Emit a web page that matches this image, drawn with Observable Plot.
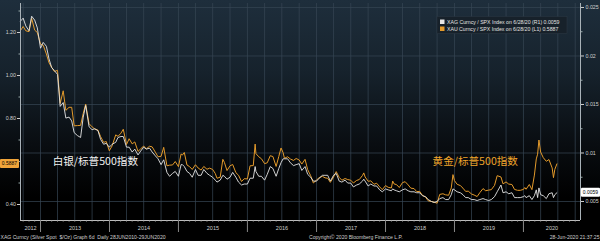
<!DOCTYPE html>
<html><head><meta charset="utf-8">
<script src="https://cdn.jsdelivr.net/npm/d3@7"></script>
<script src="https://cdn.jsdelivr.net/npm/@observablehq/plot@0.6"></script>
<style>
html,body{margin:0;padding:0;width:600px;height:241px;overflow:hidden;background:#000;}
#chart{width:600px;height:241px;background:linear-gradient(180deg,#1e2e3c 0%,#16222c 30%,#090d11 60%,#000 82%);}
svg{display:block}
</style></head><body><div id="chart"></div>
<script>
// ---- data ----
const dates = ["2012-09-17","2012-10-01","2012-10-15","2012-11-01","2012-11-15","2012-12-01","2012-12-15","2013-01-01","2013-01-15","2013-02-01","2013-02-15","2013-03-01","2013-03-15","2013-04-01","2013-04-15","2013-05-01","2013-05-15","2013-06-01","2013-06-15","2013-06-28","2013-07-15","2013-08-01","2013-08-15","2013-08-28","2013-09-15","2013-10-01","2013-10-15","2013-11-01","2013-11-15","2013-12-01","2013-12-15","2013-12-31","2014-01-15","2014-02-03","2014-02-15","2014-03-03","2014-03-15","2014-04-01","2014-04-15","2014-05-01","2014-05-15","2014-06-01","2014-06-15","2014-07-01","2014-07-15","2014-08-01","2014-08-15","2014-09-01","2014-09-15","2014-10-01","2014-10-15","2014-11-01","2014-11-15","2014-12-01","2014-12-15","2015-01-01","2015-01-15","2015-01-22","2015-02-01","2015-02-15","2015-03-01","2015-03-15","2015-04-01","2015-04-15","2015-05-01","2015-05-15","2015-06-01","2015-06-15","2015-07-01","2015-07-15","2015-07-24","2015-08-10","2015-08-24","2015-09-01","2015-09-15","2015-10-01","2015-10-15","2015-11-01","2015-11-15","2015-12-01","2015-12-15","2016-01-01","2016-01-15","2016-02-01","2016-02-11","2016-02-15","2016-03-01","2016-03-15","2016-04-01","2016-04-15","2016-05-01","2016-05-15","2016-06-01","2016-06-15","2016-06-27","2016-07-08","2016-07-15","2016-08-01","2016-08-15","2016-09-01","2016-09-15","2016-10-01","2016-10-15","2016-11-01","2016-11-15","2016-12-01","2016-12-15","2017-01-01","2017-01-15","2017-02-01","2017-02-15","2017-03-01","2017-03-15","2017-04-01","2017-04-15","2017-05-01","2017-05-15","2017-06-01","2017-06-15","2017-07-01","2017-07-15","2017-08-01","2017-08-15","2017-09-01","2017-09-08","2017-09-15","2017-10-01","2017-10-15","2017-11-01","2017-11-15","2017-12-01","2017-12-15","2018-01-01","2018-01-15","2018-02-01","2018-02-08","2018-02-15","2018-03-01","2018-03-15","2018-04-01","2018-04-15","2018-05-01","2018-05-15","2018-06-01","2018-06-15","2018-07-01","2018-07-15","2018-08-01","2018-08-15","2018-09-01","2018-09-15","2018-10-01","2018-10-15","2018-11-01","2018-11-15","2018-12-01","2018-12-15","2018-12-24","2019-01-01","2019-01-15","2019-02-01","2019-02-15","2019-03-01","2019-03-15","2019-04-01","2019-04-15","2019-05-01","2019-05-15","2019-06-01","2019-06-15","2019-07-01","2019-07-15","2019-08-01","2019-08-15","2019-09-04","2019-09-15","2019-10-01","2019-10-15","2019-11-01","2019-11-15","2019-12-01","2019-12-15","2020-01-01","2020-01-08","2020-01-15","2020-02-01","2020-02-15","2020-02-28","2020-03-09","2020-03-16","2020-03-23","2020-04-01","2020-04-15","2020-05-01","2020-05-15","2020-06-01","2020-06-08","2020-06-15","2020-06-26"];
const xauSpx = [1.209,1.228,1.208,1.204,1.266,1.211,1.200,1.146,1.141,1.100,1.059,1.038,1.019,1.024,0.870,0.929,0.838,0.852,0.852,0.766,0.767,0.768,0.824,0.867,0.776,0.761,0.751,0.746,0.716,0.689,0.693,0.650,0.673,0.724,0.717,0.732,0.750,0.679,0.706,0.682,0.691,0.647,0.659,0.672,0.659,0.671,0.668,0.643,0.622,0.624,0.666,0.580,0.583,0.584,0.600,0.576,0.635,0.630,0.642,0.584,0.576,0.563,0.585,0.570,0.560,0.577,0.564,0.569,0.563,0.544,0.522,0.527,0.610,0.596,0.558,0.580,0.586,0.548,0.536,0.507,0.520,0.519,0.580,0.581,0.681,0.637,0.622,0.613,0.590,0.594,0.627,0.623,0.577,0.623,0.663,0.641,0.615,0.622,0.612,0.605,0.614,0.607,0.588,0.610,0.562,0.534,0.500,0.514,0.525,0.531,0.524,0.522,0.503,0.528,0.553,0.526,0.513,0.521,0.516,0.513,0.500,0.512,0.516,0.535,0.547,0.528,0.508,0.510,0.494,0.499,0.482,0.469,0.488,0.480,0.477,0.509,0.496,0.492,0.479,0.502,0.506,0.491,0.476,0.474,0.460,0.461,0.443,0.434,0.417,0.414,0.411,0.406,0.447,0.450,0.445,0.443,0.477,0.539,0.511,0.494,0.488,0.476,0.461,0.462,0.449,0.444,0.437,0.455,0.474,0.464,0.467,0.469,0.489,0.534,0.528,0.496,0.505,0.495,0.493,0.470,0.466,0.466,0.470,0.479,0.471,0.493,0.469,0.537,0.612,0.634,0.700,0.644,0.618,0.601,0.609,0.570,0.525,0.563,0.5887];
const xagSpx = [0.0236,0.0239,0.0231,0.0226,0.0241,0.0237,0.0229,0.0208,0.0214,0.0210,0.0197,0.0188,0.0185,0.0181,0.0148,0.0152,0.0136,0.0137,0.0133,0.0121,0.0118,0.0116,0.0137,0.0149,0.0127,0.0124,0.0125,0.0123,0.0114,0.0109,0.0110,0.0106,0.0109,0.0111,0.0116,0.0117,0.0117,0.0106,0.0106,0.0101,0.0104,0.0098,0.0102,0.0106,0.0104,0.0105,0.0101,0.0097,0.0094,0.0088,0.0093,0.0080,0.0076,0.0079,0.0081,0.0076,0.0088,0.0088,0.0086,0.0081,0.0079,0.0075,0.0083,0.0077,0.0077,0.0083,0.0079,0.0077,0.0075,0.0072,0.0070,0.0072,0.0077,0.0076,0.0073,0.0075,0.0080,0.0075,0.0070,0.0067,0.0068,0.0068,0.0074,0.0074,0.0086,0.0081,0.0076,0.0076,0.0072,0.0078,0.0086,0.0084,0.0076,0.0084,0.0090,0.0094,0.0094,0.0094,0.0090,0.0087,0.0088,0.0089,0.0082,0.0086,0.0078,0.0075,0.0071,0.0071,0.0074,0.0077,0.0077,0.0077,0.0071,0.0077,0.0079,0.0071,0.0070,0.0072,0.0069,0.0069,0.0065,0.0067,0.0068,0.0071,0.0073,0.0071,0.0066,0.0068,0.0066,0.0066,0.0062,0.0060,0.0063,0.0062,0.0061,0.0063,0.0062,0.0061,0.0060,0.0062,0.0063,0.0061,0.0060,0.0060,0.0059,0.0059,0.0056,0.0055,0.0052,0.0050,0.0049,0.0050,0.0053,0.0054,0.0052,0.0052,0.0057,0.0063,0.0062,0.0060,0.0059,0.0057,0.0054,0.0054,0.0052,0.0052,0.0051,0.0052,0.0053,0.0052,0.0051,0.0052,0.0055,0.0060,0.0067,0.0059,0.0060,0.0058,0.0059,0.0054,0.0054,0.0054,0.0055,0.0056,0.0054,0.0056,0.0052,0.0056,0.0062,0.0054,0.0064,0.0057,0.0056,0.0053,0.0058,0.0059,0.0054,0.0057,0.0059];

const leftTicks = [1.2, 1.0, 0.8, 0.4];
const leftMinor = [1.3, 1.1, 0.9, 0.7, 0.6, 0.5];
const rightTicks = [0.025, 0.02, 0.015, 0.01, 0.005];
const rightMinor = [0.0225, 0.0175, 0.0125, 0.0075];
const years = [2012, 2013, 2014, 2015, 2016, 2017, 2018, 2019, 2020];
const xRange = ["2012-09-17", "2020-10-29"];
const leftDomain = [0.3256, 1.3349];
const rightDomain = [0.003041, 0.02541];
const annoText = ["白银/标普500指数", "黄金/标普500指数"];
const annoDate = ["2013-10-18", "2019-04-21"];
const annoValue = [0.60, 0.60];
const legendText = ["XAG Curncy / SPX Index on 6/28/20 (R1) 0.0059", "XAU Curncy / SPX Index on 6/28/20 (L1) 0.5887"];
const lastGold = "0.5887", lastSilver = "0.0059";
const footerLeft = "XAG Curncy (Silver Spot  $/Oz) Graph 6d  Daily 28JUN2010-29JUN2020";
const footerMid = "Copyright\u00A9 2020 Bloomberg Finance L.P.";
const footerRight = "28-Jun-2020 21:37:25";

// ---- build ----
const parse = d3.utcParse("%Y-%m-%d");
const data = dates.map((d, i) => ({date: parse(d), gold: xauSpx[i], silver: xagSpx[i]}));
const s2g = d3.scaleLinear().domain(rightDomain).range(leftDomain);
const x0 = parse(xRange[0]), x1 = parse(xRange[1]);
const quarters = d3.utcMonth.every(3).range(x0, x1);
const months = d3.utcMonth.range(x0, x1);
const yearStarts = d3.utcYear.range(x0, x1);
const yearLabels = years.map(y => {
  const a = Math.max(+x0, Date.UTC(y, 0, 1)), b = Math.min(+x1, Date.UTC(y + 1, 0, 1));
  return {date: new Date((a + b) / 2), year: String(y)};
});
const annos = annoText.map((t, i) => ({text: t, date: parse(annoDate[i]), value: annoValue[i]}));
const gold = "#e39a2b", silver = "#e6e6e6", axisCol = "#cfcfcf", gridCol = "#364653";
const FONT = "Liberation Sans, Arial, sans-serif";
const CJK = "Noto Sans CJK SC, sans-serif";

const chart = Plot.plot({
  width: 600, height: 241,
  marginLeft: 20, marginRight: 20, marginTop: 3, marginBottom: 21,
  style: {background: "transparent", color: axisCol, fontFamily: FONT, fontSize: "5.3px"},
  x: {type: "utc", domain: [x0, x1], axis: null},
  y: {domain: leftDomain, axis: null},
  marks: [
    Plot.gridX(quarters, {stroke: gridCol, strokeOpacity: 0.9, strokeWidth: 0.8}),
    Plot.gridY(rightTicks.map(s2g), {stroke: gridCol, strokeOpacity: 0.9, strokeWidth: 0.8}),
    Plot.line(data, {x: "date", y: "gold", stroke: gold, strokeWidth: 1}),
    Plot.line(data, {x: "date", y: d => s2g(d.silver), stroke: silver, strokeWidth: 0.9}),
    Plot.ruleX([x0, x1], {stroke: "#a9b2b8", strokeWidth: 1}),
    Plot.ruleY([leftDomain[0]], {stroke: "#bdbdbd", strokeWidth: 1}),
    Plot.axisY(leftTicks, {anchor: "left", tickSize: 3, tickPadding: 1.5, tickFormat: d3.format(".2f"), color: axisCol, fontSize: 5.3}),
    Plot.axisY(leftMinor, {anchor: "left", tickSize: 1.5, tickFormat: () => "", color: "#9aa"}),
    Plot.axisY(rightTicks.map(s2g), {anchor: "right", tickSize: 3, tickPadding: 2, tickFormat: d => String(+s2g.invert(d).toFixed(4)), color: axisCol, fontSize: 5.3}),
    Plot.axisY(rightMinor.map(s2g), {anchor: "right", tickSize: 1.5, tickFormat: () => "", color: "#9aa"}),
    Plot.axisX(months, {anchor: "bottom", tickSize: 1.5, tickFormat: () => "", color: "#aaa"}),
    Plot.axisX(yearStarts, {anchor: "bottom", tickSize: 12, tickFormat: () => "", color: "#888"}),
    Plot.text(yearLabels, {x: "date", text: "year", frameAnchor: "bottom", dy: 9.5, fill: axisCol, fontSize: 5.5}),
    Plot.text(annos, {x: "date", y: "value", text: "text", fill: (d, i) => i === 0 ? "#f2f2f2" : "#f0a52a", fontSize: 10.6, fontFamily: CJK, textAnchor: "middle"})
  ]
});
document.getElementById("chart").append(chart);

// value tags, legend and footer
const svg = d3.select(chart);
const ys = v => chart.scale("y").apply(v);
const tag = (xp, v, label, fill) => {
  const y = ys(v);
  svg.append("rect").attr("x", xp).attr("y", y - 4.5).attr("width", 19).attr("height", 9).attr("rx", 1).attr("fill", fill);
  svg.append("text").attr("x", xp + 9.5).attr("y", y).attr("dy", "0.35em").attr("text-anchor", "middle")
    .attr("font-size", 5).attr("font-family", FONT).attr("fill", "#000").text(label);
};
tag(0, +lastGold, lastGold, "#f0a43a");
tag(581, s2g(+lastSilver), lastSilver, "#ffffff");

const lg = svg.append("g");
lg.append("rect").attr("x", 437).attr("y", 16.5).attr("width", 130).attr("height", 17).attr("fill", "#17212a").attr("stroke", "#2c3944").attr("stroke-width", 0.5);
[silver, gold].forEach((c, i) => {
  lg.append("rect").attr("x", 440).attr("y", 19.5 + i * 7).attr("width", 4.5).attr("height", 4.5).attr("fill", c);
  lg.append("text").attr("x", 447).attr("y", 21.8 + i * 7).attr("dy", "0.35em").attr("text-anchor", "start").attr("font-size", 5.2)
    .attr("font-family", FONT).attr("fill", "#e2e2e2").text(legendText[i]);
});

const ft = (x, anchor, t) => svg.append("text").attr("x", x).attr("y", 239).attr("text-anchor", anchor)
  .attr("font-size", 5.1).attr("font-family", FONT).attr("fill", "#cfcfcf").text(t);
ft(0.5, "start", footerLeft);
ft(309, "start", footerMid);
ft(599.5, "end", footerRight);
</script>
</body></html>
